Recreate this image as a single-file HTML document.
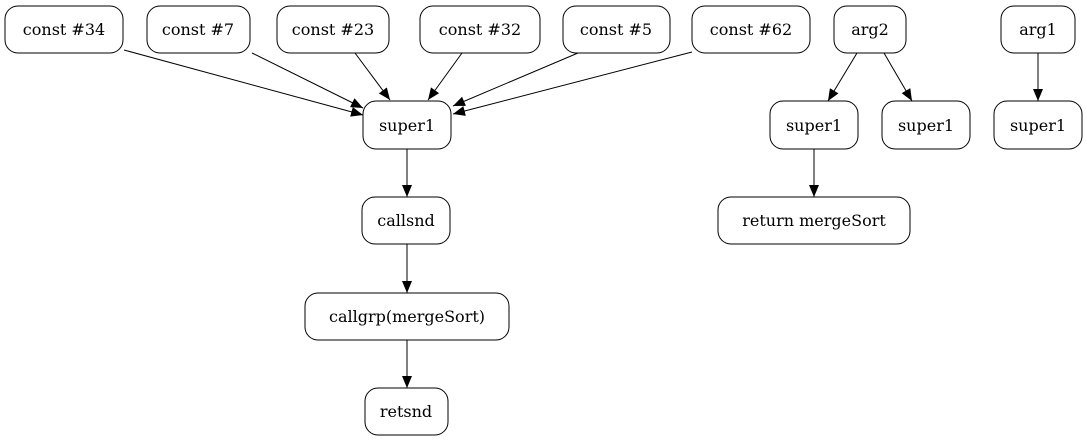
<!DOCTYPE html>
<html><head><meta charset="utf-8"><style>html,body{margin:0;padding:0;background:#fff}</style></head>
<body>
<svg width="1087" height="443" viewBox="0 0 1087 443" xmlns="http://www.w3.org/2000/svg" font-family="'DejaVu Serif','Liberation Serif',serif" font-size="16">
<defs><marker id="a" markerWidth="12" markerHeight="10" refX="12" refY="5" orient="auto" markerUnits="userSpaceOnUse"><path d="M0,0L12,5L0,10z" fill="#000"/></marker></defs>
<g fill="none" stroke="#000" stroke-width="1">
<rect x="5" y="6" width="118" height="47" rx="13"/>
<rect x="147" y="6" width="103" height="47" rx="13"/>
<rect x="277" y="6" width="112" height="47" rx="13"/>
<rect x="420" y="6" width="120" height="47" rx="13"/>
<rect x="563" y="6" width="107" height="47" rx="13"/>
<rect x="692" y="6" width="118" height="47" rx="13"/>
<rect x="834" y="6" width="72" height="47" rx="13"/>
<rect x="1001" y="6" width="74" height="47" rx="13"/>
<rect x="363" y="101" width="88" height="48" rx="13"/>
<rect x="770" y="101" width="88" height="48" rx="13"/>
<rect x="882" y="101" width="88" height="48" rx="13"/>
<rect x="994" y="101" width="88" height="48" rx="13"/>
<rect x="362" y="197" width="88" height="47" rx="13"/>
<rect x="718" y="197" width="192" height="47" rx="13"/>
<rect x="305" y="293" width="204" height="47" rx="13"/>
<rect x="365" y="388" width="83" height="47" rx="13"/>
<g marker-end="url(#a)">
<line x1="124" y1="50" x2="363" y2="115"/>
<line x1="252" y1="53" x2="363" y2="108"/>
<line x1="355" y1="53" x2="390" y2="100"/>
<line x1="462" y1="53" x2="428" y2="100"/>
<line x1="578" y1="53" x2="453" y2="106"/>
<line x1="692" y1="52" x2="453" y2="114"/>
<line x1="857" y1="53" x2="828" y2="101"/>
<line x1="884" y1="53" x2="912" y2="101"/>
<line x1="1038" y1="53" x2="1038" y2="101"/>
<line x1="407" y1="149" x2="407" y2="197"/>
<line x1="814" y1="149" x2="814" y2="197"/>
<line x1="407" y1="244" x2="407" y2="293"/>
<line x1="407" y1="340" x2="407" y2="388"/>
</g></g>
<g text-anchor="middle" fill="#000">
<text x="64" y="35">const #34</text>
<text x="198" y="35">const #7</text>
<text x="333" y="35">const #23</text>
<text x="480" y="35">const #32</text>
<text x="616" y="35">const #5</text>
<text x="751" y="35">const #62</text>
<text x="870" y="35">arg2</text>
<text x="1038" y="35">arg1</text>
<text x="407" y="131">super1</text>
<text x="814" y="131">super1</text>
<text x="926" y="131">super1</text>
<text x="1038" y="131">super1</text>
<text x="406" y="226">callsnd</text>
<text x="814" y="226">return mergeSort</text>
<text x="407" y="322">callgrp(mergeSort)</text>
<text x="406" y="417">retsnd</text>
</g>
</svg>
</body></html>
